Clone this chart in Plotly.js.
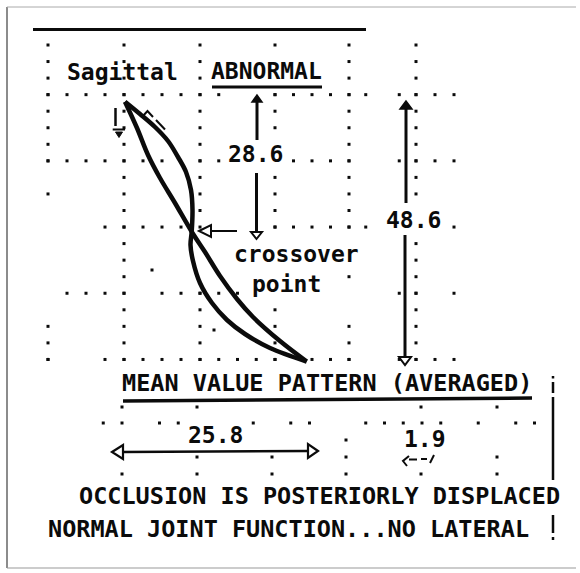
<!DOCTYPE html>
<html><head><meta charset="utf-8">
<script src="https://cdn.plot.ly/plotly-3.0.1.min.js"></script>
<style>html,body{margin:0;padding:0;background:#fff;}#chart{width:580px;height:573px;}</style>
</head><body><div id="chart"></div>
<script>
// ---------- DATA (page units) ----------
// Mean (averaged) sagittal pattern
const meanX = [125, 137, 148, 160, 175, 191.7, 205, 220, 237, 253, 280, 306.7];
const meanY = [101.7, 128, 155, 178, 203, 231.7, 252, 276, 299, 317, 341, 361.5];
// Abnormal sagittal pattern (S-shaped, crosses the mean)
const abnormalX = [125, 140, 155, 168, 178, 186, 191, 192.5, 191.7, 190.5, 193, 200, 212, 227, 245, 270, 306.7];
const abnormalY = [101.7, 114, 127, 141, 157, 172, 190, 210, 231.7, 245, 261, 283, 303, 320, 334, 348, 361.5];
// Measurements
const measureLabels = ["28.6", "48.6", "25.8", "1.9"];
// Texts
const titleLabel = "Sagittal";
const statusLabel = "ABNORMAL";
const crossLabels = ["crossover", "point"];
const meanLabel = "MEAN VALUE PATTERN (AVERAGED)";
const noteLines = ["OCCLUSION IS POSTERIORLY DISPLACED", "NORMAL JOINT FUNCTION...NO LATERAL"];

// ---------- dotted guide grid (decoration) ----------
const gColX = [48, 124, 200, 275, 349, 416];
const gTop = 45, gStep = 16.55;
const gColJ = [
  [0,1,2,3,4,5,6,7,9,17,18,19],
  [0,1,2,3,4,5,6,7,8,9,10,11,12,13,14,15,16,17,18,19],
  [0,1,2,3,4,5,6,7,8,9,10,11,15,16,17,18,19],
  [0,3,4,5,8,9,10,11,16,17,18,19],
  [0,1,2,3,4,5,6,7,8,9,10,11,14,17,18,19],
  [0,1,2,3,4,5,6,7,8,9,12,13,14,15,16,17,18,19]
];
const gRowJ = [3, 7, 11, 15, 19];
const gRowP = [
  [0,1,2,3,4,5,6,7,8,9,12,13,14,15,16,17,19,20,21,22],
  [0,1,2,3,4,5,6,8,9,13,14,15,16,19,20,21,22],
  [3,4,5,6,7,12,13,14,15,16,17,22],
  [1,2,3,4,6,7,8,9,10,19,20,22],
  [0,3,4,5,6,7,8,9,10,11,12,14,15,16,19,20,21,22]
];
const lColX = [122, 197, 272, 346, 421, 497];
const lColY = [[407,474],[407,457,474],[457,474],[440,457,474],[407,474],[407,457,474]];
const lRowY = 423, lRowStep = 18.75;
const lRowP = [-1,0,2,3,7,9,10,13,14,15,16,17,19,21,22];
const strayDots = [[152,270],[214,330]];

function rowX(p){
  if (p >= 20) return gColX[5] + (p-20)*19;
  const k = Math.floor(p/4), m = p%4;
  return gColX[k] + (gColX[k+1]-gColX[k])*m/4;
}
const dotX = [], dotY = [];
gColX.forEach((x,i)=>gColJ[i].forEach(j=>{dotX.push(x);dotY.push(gTop+gStep*j);}));
gRowJ.forEach((j,r)=>gRowP[r].forEach(p=>{dotX.push(rowX(p));dotY.push(gTop+gStep*j);}));
lColX.forEach((x,i)=>lColY[i].forEach(y=>{dotX.push(x);dotY.push(y);}));
lRowP.forEach(p=>{dotX.push(lColX[0]+lRowStep*p);dotY.push(lRowY);});
strayDots.forEach(d=>{dotX.push(d[0]);dotY.push(d[1]);});

const INK = '#0b0b0b';
const traces = [
  {x: dotX, y: dotY, mode: 'markers', type: 'scatter', hoverinfo: 'skip',
   marker: {symbol: 'square', size: 3, color: INK}},
  {x: meanX, y: meanY, mode: 'lines', type: 'scatter', hoverinfo: 'skip',
   line: {shape: 'spline', smoothing: 1, width: 4.5, color: INK}},
  {x: abnormalX, y: abnormalY, mode: 'lines', type: 'scatter', hoverinfo: 'skip',
   line: {shape: 'spline', smoothing: 1, width: 4.5, color: INK}}
];

// ---------- shapes ----------
const shapes = [];
function seg(x0,y0,x1,y1,w,c){shapes.push({type:'line',xref:'x',yref:'y',x0,y0,x1,y1,line:{width:w,color:c||INK}});}
function tri(pts,filled,w){
  const d = 'M ' + pts.map(p=>p[0]+','+p[1]).join(' L ') + ' Z';
  shapes.push({type:'path',xref:'x',yref:'y',path:d,line:{width:w||2,color:INK},fillcolor:filled?INK:'rgba(0,0,0,0)'});
}
// frame
seg(7,7,7,568,1.5,'#666');
seg(7,7,576,7,1,'#aaa');
seg(7,568,576,568,1,'#999');
// top rule
seg(33,29.5,366,29.5,3);
// ABNORMAL underline
seg(212,87,322,87,3);
// MEAN underline
seg(123,401,532,398,3.5);
// 28.6 arrow
seg(257,102,257,140,3); tri([[257,95],[252,102],[262,102]],true,1.5);
seg(256.5,173,256.5,232,3); tri([[251,232],[262,232],[256.5,239]],false,2);
// 48.6 arrow
seg(406,109,406,203,3); tri([[406,101],[400,109],[412,109]],true,1.5);
seg(405,235,405,357,3); tri([[399,357],[411,357],[405,365]],false,2);
// crossover arrow
seg(211,231,237,231,2); tri([[199,231],[211,225],[211,237]],false,2);
// 25.8 arrow
seg(123,452,308,451,2.5); tri([[112,452],[123,445],[123,459]],false,2.2); tri([[318,451],[308,444],[308,458]],false,2.2);
// small glyph under start
seg(115.5,108,115.5,126,2.5); seg(112.7,129.5,125,129.5,2); tri([[115.5,132],[122.5,132],[119,137.5]],true,1);
// small glyph right of start
shapes.push({type:'path',xref:'x',yref:'y',path:'M 142,117 L 147.5,111 L 153,117',line:{width:2,color:INK}});
seg(156,120,165,129.5,2);
// 1.9 small glyph
shapes.push({type:'path',xref:'x',yref:'y',path:'M 409,456 L 403,461 L 407,466',line:{width:2,color:INK}});
seg(409,459.5,417,459.5,2); seg(421,459,427,459,2); seg(434,455,430,463,2);
// right vertical dashed marker
seg(553,376,553,378.5,2.5); seg(553,382,553,393,2.5); seg(553,397,553,480,2.5);
seg(553,515,553,533,2.5); seg(553,537,553,540,2.5);

// ---------- annotations ----------
const FONT = {family: 'DejaVu Sans Mono', size: 23, color: INK, weight: 'bold'};
function txt(t,x,y,size){
  return {text:t,x,y,xref:'x',yref:'y',showarrow:false,xanchor:'center',yanchor:'middle',
          font:Object.assign({},FONT,size?{size}:{})};
}
const annotations = [
  txt(titleLabel,122.5,72),
  txt(statusLabel,266,70.5),
  txt(measureLabels[0],255.5,154),
  txt(measureLabels[1],413,220),
  txt(crossLabels[0],296,254),
  txt(crossLabels[1],286.5,284),
  txt(meanLabel,326.5,382.5,23.5),
  txt(measureLabels[2],215,434.5),
  txt(measureLabels[3],425,439),
  txt(noteLines[0],319,495.5,23.5),
  txt(noteLines[1],288,528.5,23.5)
];

const layout = {
  width: 580, height: 573, margin: {l:0,r:0,t:0,b:0},
  paper_bgcolor: '#fff', plot_bgcolor: '#fff', showlegend: false,
  xaxis: {range:[0,580], visible:false, fixedrange:true},
  yaxis: {range:[573,0], visible:false, fixedrange:true},
  shapes, annotations
};
Plotly.newPlot('chart', traces, layout, {displayModeBar:false, staticPlot:true});
</script></body></html>
